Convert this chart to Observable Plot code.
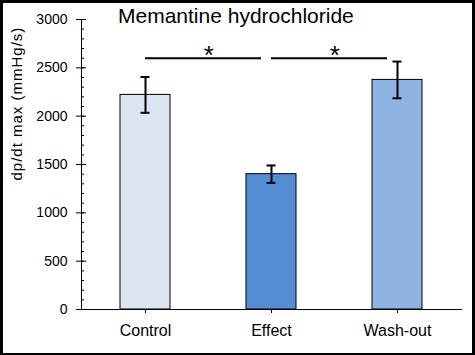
<!DOCTYPE html>
<html>
<head>
<meta charset="utf-8">
<script src="https://cdn.jsdelivr.net/npm/d3@7"></script>
<script src="https://cdn.jsdelivr.net/npm/@observablehq/plot@0.6"></script>
<style>
  html, body { margin: 0; padding: 0; background: white; }
  #wrap { position: relative; width: 475px; height: 355px; overflow: hidden; background: white; font-family: "Liberation Sans", Arial, sans-serif; }
  #title { position: absolute; left: 118px; top: 4px; font-size: 21px; color: #000; white-space: nowrap; }
  #border { position: absolute; left: 0; top: 0; width: 475px; height: 355px; box-sizing: border-box; border-style: solid; border-color: #000; border-width: 3px 3px 2px 3px; pointer-events: none; }
  svg { position: absolute; left: 0; top: 0; }
</style>
</head>
<body>
<div id="wrap">
  <div id="chart"></div>
  <div id="title">Memantine hydrochloride</div>
  <div id="border"></div>
</div>
<script>
const categories = ["Control", "Effect", "Wash-out"];
const means = [2220, 1400, 2375];
const errors = [185, 90, 190];
const fills = ["#dce6f2", "#558ed5", "#8eb4e3"];
const sigPairs = [["Control", "Effect"], ["Effect", "Wash-out"]];
const sigLevel = 2600;
const yMajorTicks = [0, 500, 1000, 1500, 2000, 2500, 3000];
const yMinorTicks = d3.range(0, 3001, 100);
const yLabel = "dp/dt max (mmHg/s)";

const data = categories.map((c, i) => ({cat: c, mean: means[i], lo: means[i] - errors[i], hi: means[i] + errors[i], fill: fills[i]}));
const sig = sigPairs.map(([a, b]) => ({x1: a, x2: b, y: sigLevel}));

const W = 475, H = 355, mL = 81, mR = 14, mT = 19, mB = 46;
const xOpts = {type: "band", domain: categories, paddingInner: 0.6, paddingOuter: 0.3};
const xs = Plot.scale({x: {...xOpts, range: [mL, W - mR]}});
const halfStep = (xs.apply(categories[1]) - xs.apply(categories[0])) / 2;

const chart = Plot.plot({
  width: W, height: H,
  marginLeft: mL, marginRight: mR, marginTop: mT, marginBottom: mB,
  style: {fontFamily: "Liberation Sans, Arial, sans-serif", fontSize: "14px", color: "#000", background: "transparent"},
  x: {...xOpts, label: null},
  y: {domain: [0, 3000], label: null},
  marks: [
    Plot.barY(data, {x: "cat", y: "mean", fill: "fill", stroke: "#000", strokeWidth: 1}),
    Plot.ruleX(data, {x: "cat", y1: "lo", y2: "hi", stroke: "#000", strokeWidth: 2}),
    Plot.tickY(data, {x: "cat", y: "lo", stroke: "#000", strokeWidth: 2, insetLeft: 20.5, insetRight: 20.5}),
    Plot.tickY(data, {x: "cat", y: "hi", stroke: "#000", strokeWidth: 2, insetLeft: 20.5, insetRight: 20.5}),
    Plot.ruleY(sig, {x1: "x1", x2: "x2", y: "y", stroke: "#000", strokeWidth: 2, insetLeft: 25, insetRight: 35}),
    Plot.text(sig, {x: "x1", y: "y", text: () => "*", dx: halfStep, dy: -2, fontSize: 26, fill: "#000"}),
    Plot.frame({anchor: "left", stroke: "#000"}),
    Plot.frame({anchor: "bottom", stroke: "#000"}),
    Plot.axisY({ticks: yMajorTicks, tickSize: 0, tickPadding: 14, fontSize: 14, tickFormat: d => String(d)}),
    Plot.axisY({ticks: yMajorTicks, tickSize: 10, dx: 5, text: null}),
    Plot.axisY({ticks: yMinorTicks, tickSize: 3, dx: 3, text: null}),
    Plot.axisX({tickSize: 4, tickPadding: 11, fontSize: 16}),
    Plot.text([yLabel], {frameAnchor: "left", rotate: -90, dx: -64, dy: 16, fontSize: 15, fill: "#000"})
  ]
});
chart.querySelectorAll("text").forEach(t => { if (t.textContent === yLabel) t.setAttribute("letter-spacing", "1"); });
document.getElementById("chart").appendChild(chart);
</script>
</body>
</html>
